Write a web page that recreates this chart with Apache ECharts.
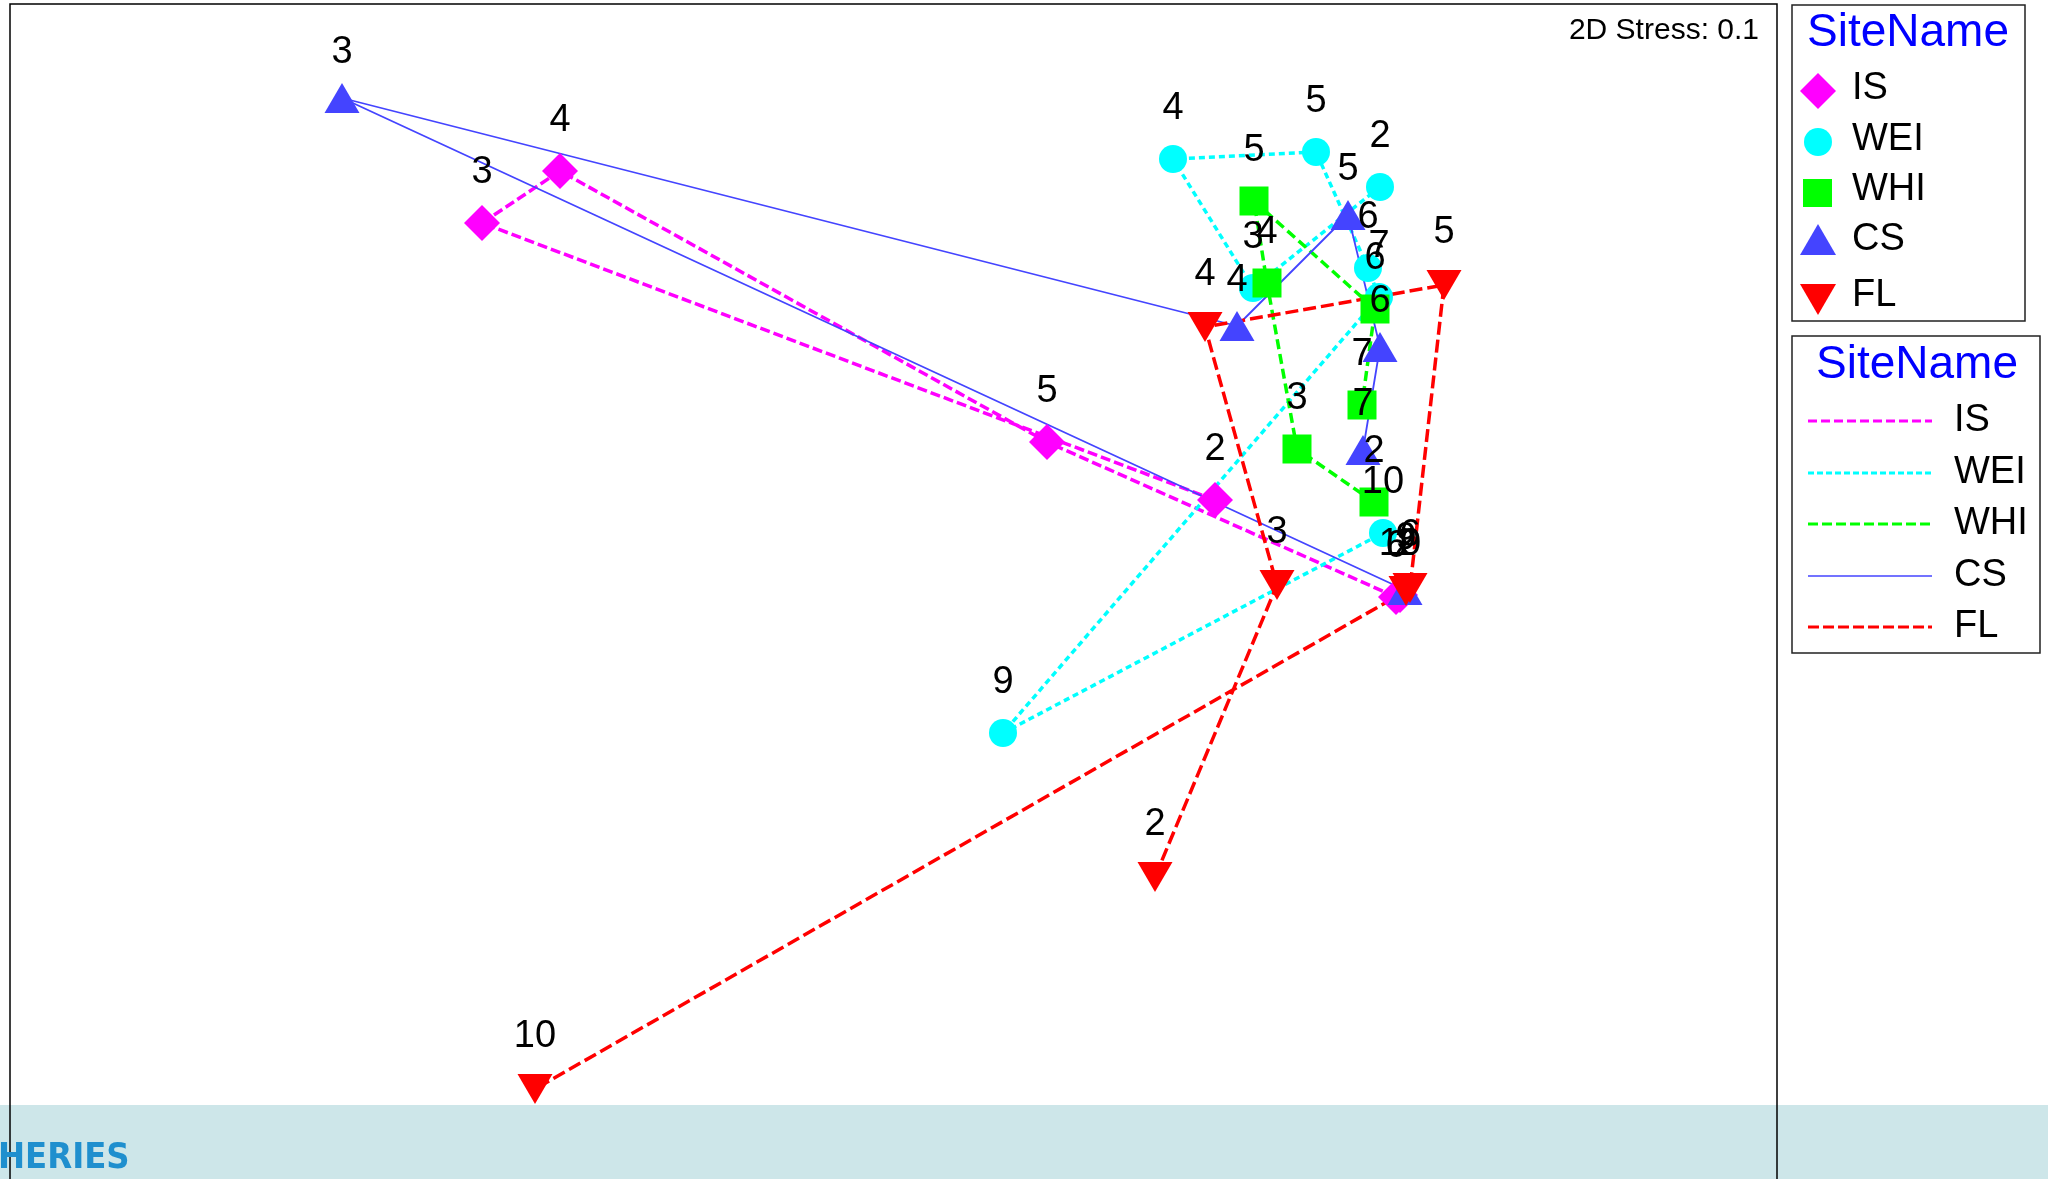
<!DOCTYPE html>
<html>
<head>
<meta charset="utf-8">
<script src="https://cdn.jsdelivr.net/npm/echarts@6/dist/echarts.min.js"></script>
<style>
	html, body { margin: 0; padding: 0; background: #fff; }
	#mds { width: 2048px; height: 1179px; }
</style>
</head>
<body>
<div id="mds"></div>
<script>
	// NMDS 坐标 (每个站点按时间顺序连成轨迹)，标签为时间编号
	var isX = [0.230, -1.236, -1.080, -0.106, 0.592, 0.600];
	var isY = [0.200, 0.754, 0.858, 0.316, 0.006, 0.010];
	var isLab = ['2', '3', '4', '5', '6', '10'];

	var weiX = [0.560, 0.306, 0.146, 0.432, 0.536, 0.558, -0.194, 0.566];
	var weiY = [0.826, 0.624, 0.882, 0.896, 0.664, 0.606, -0.266, 0.134];
	var weiLab = ['2', '3', '4', '5', '6', '7', '9', '10'];

	var whiX = [0.548, 0.394, 0.334, 0.308, 0.550, 0.524];
	var whiY = [0.196, 0.302, 0.634, 0.798, 0.582, 0.390];
	var whiLab = ['2', '3', '4', '5', '6', '7'];

	var csX = [0.610, -1.516, 0.274, 0.496, 0.560, 0.526];
	var csY = [0.020, 1.004, 0.548, 0.770, 0.506, 0.300];
	var csLab = ['2', '3', '4', '5', '6', '7'];

	var flX = [0.110, 0.354, 0.210, 0.688, 0.620, 0.612, -1.130];
	var flY = [-0.554, 0.030, 0.546, 0.630, 0.024, 0.018, -0.978];
	var flLab = ['2', '3', '4', '5', '6', '9', '10'];

	var stress = '2D Stress: 0.1';

	function pts(xs, ys, labs) {
		var out = [];
		for (var i = 0; i < xs.length; i++) {
			out.push([xs[i], ys[i], labs[i]]);
		}
		return out;
	}

	function site(name, data, color, symbol, size, rotate, lw, dash, lblOff) {
		return {
			name: name,
			type: 'line',
			data: data,
			symbol: symbol,
			symbolSize: size,
			symbolRotate: rotate,
			showSymbol: true,
			itemStyle: { color: color },
			lineStyle: { color: color, width: lw, type: dash },
			label: {
				show: true,
				position: 'inside',
				offset: [0, lblOff],
				color: '#000',
				fontSize: 38,
				fontFamily: 'Liberation Sans, Arial',
				formatter: function (p) { return p.value[2]; }
			},
			emphasis: { disabled: true }
		};
	}

	var chart = echarts.init(document.getElementById('mds'));

	var T = '38px "Liberation Sans", Arial';
	var graphic = [
		// 底部横条
		{ type: 'rect', z: -10, shape: { x: 0, y: 1105, width: 2048, height: 80 }, style: { fill: '#cde6e9' } },
		{ type: 'text', x: -2, y: 1159, style: { text: 'HERIES', font: 'bold 36px "DejaVu Sans Condensed", "DejaVu Sans"', fill: '#1f8fce', verticalAlign: 'middle' } },
		{ type: 'text', x: 1759, y: 31, style: { text: stress, font: '30px "Liberation Sans", Arial', fill: '#000', align: 'right', verticalAlign: 'middle' } },
		// 图例1: 符号
		{ type: 'rect', shape: { x: 1792, y: 5, width: 233, height: 316 }, style: { fill: '#fff', stroke: '#222', lineWidth: 1.5 } },
		{ type: 'text', x: 1908, y: 33, style: { text: 'SiteName', font: '46px "Liberation Sans", Arial', fill: '#0000ff', align: 'center', verticalAlign: 'middle' } },
		{ type: 'polygon', shape: { points: [[1818, 73], [1836, 91], [1818, 109], [1800, 91]] }, style: { fill: '#ff00ff' } },
		{ type: 'circle', shape: { cx: 1818, cy: 142, r: 14 }, style: { fill: '#00ffff' } },
		{ type: 'rect', shape: { x: 1803, y: 179, width: 29, height: 28 }, style: { fill: '#00ff00' } },
		{ type: 'polygon', shape: { points: [[1818, 224], [1836, 255], [1800, 255]] }, style: { fill: '#4444ff' } },
		{ type: 'polygon', shape: { points: [[1800, 284], [1836, 284], [1818, 315]] }, style: { fill: '#ff0000' } },
		{ type: 'text', x: 1852, y: 89, style: { text: 'IS', font: T, fill: '#000', verticalAlign: 'middle' } },
		{ type: 'text', x: 1852, y: 140, style: { text: 'WEI', font: T, fill: '#000', verticalAlign: 'middle' } },
		{ type: 'text', x: 1852, y: 190, style: { text: 'WHI', font: T, fill: '#000', verticalAlign: 'middle' } },
		{ type: 'text', x: 1852, y: 240, style: { text: 'CS', font: T, fill: '#000', verticalAlign: 'middle' } },
		{ type: 'text', x: 1852, y: 296, style: { text: 'FL', font: T, fill: '#000', verticalAlign: 'middle' } },
		// 图例2: 线型
		{ type: 'rect', shape: { x: 1792, y: 336, width: 248, height: 317 }, style: { fill: '#fff', stroke: '#222', lineWidth: 1.5 } },
		{ type: 'text', x: 1917, y: 365, style: { text: 'SiteName', font: '46px "Liberation Sans", Arial', fill: '#0000ff', align: 'center', verticalAlign: 'middle' } },
		{ type: 'line', shape: { x1: 1808, y1: 421, x2: 1932, y2: 421 }, style: { stroke: '#ff00ff', lineWidth: 3, lineDash: [9, 4] } },
		{ type: 'line', shape: { x1: 1808, y1: 473, x2: 1932, y2: 473 }, style: { stroke: '#00ffff', lineWidth: 3, lineDash: [6, 3] } },
		{ type: 'line', shape: { x1: 1808, y1: 524, x2: 1932, y2: 524 }, style: { stroke: '#00ff00', lineWidth: 3, lineDash: [10, 4] } },
		{ type: 'line', shape: { x1: 1808, y1: 576, x2: 1932, y2: 576 }, style: { stroke: '#4444ff', lineWidth: 1.5 } },
		{ type: 'line', shape: { x1: 1808, y1: 627, x2: 1932, y2: 627 }, style: { stroke: '#ff0000', lineWidth: 3, lineDash: [11, 4] } },
		{ type: 'text', x: 1954, y: 421, style: { text: 'IS', font: T, fill: '#000', verticalAlign: 'middle' } },
		{ type: 'text', x: 1954, y: 473, style: { text: 'WEI', font: T, fill: '#000', verticalAlign: 'middle' } },
		{ type: 'text', x: 1954, y: 524, style: { text: 'WHI', font: T, fill: '#000', verticalAlign: 'middle' } },
		{ type: 'text', x: 1954, y: 576, style: { text: 'CS', font: T, fill: '#000', verticalAlign: 'middle' } },
		{ type: 'text', x: 1954, y: 627, style: { text: 'FL', font: T, fill: '#000', verticalAlign: 'middle' } }
	];

	chart.setOption({
		animation: false,
		backgroundColor: '#fff',
		grid: {
			left: 10, top: 4, width: 1767, height: 1250,
			outerBoundsMode: 'none', containLabel: false,
			show: true, borderColor: '#000', borderWidth: 1.5, backgroundColor: 'transparent'
		},
		xAxis: { type: 'value', min: -2.18, max: 1.354, show: false },
		yAxis: { type: 'value', min: -1.308, max: 1.192, show: false },
		graphic: graphic,
		series: [
			site('IS', pts(isX, isY, isLab), '#ff00ff', 'diamond', 36, 0, 3.5, [10, 4], -50),
			site('WEI', pts(weiX, weiY, weiLab), '#00ffff', 'circle', 28, 0, 3.5, [6, 4], -50),
			site('WHI', pts(whiX, whiY, whiLab), '#00ff00', 'rect', 29, 0, 3.5, [10, 5], -50),
			site('CS', pts(csX, csY, csLab), '#4444ff', 'triangle', [35, 30], 0, 1.8, 'solid', -45),
			site('FL', pts(flX, flY, flLab), '#ff0000', 'triangle', [35, 30], 180, 3.5, [13, 5], -52)
		]
	});
</script>
</body>
</html>
